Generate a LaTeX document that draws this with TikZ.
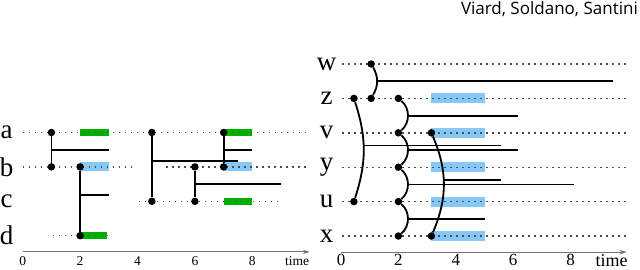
\documentclass[tikz,border=0pt]{standalone}
\usepackage{fontspec}
\setmainfont{Liberation Serif}
\newfontfamily\titlefont{Open Sans}
\usetikzlibrary{arrows.meta}

\definecolor{barblue}{RGB}{135,200,250}
\definecolor{bargreen}{RGB}{0,176,0}
\definecolor{axisgray}{RGB}{115,115,115}

\tikzset{
  dot/.style={circle,fill=black,inner sep=0pt,minimum size=7.5pt},
  link/.style={line width=1.8pt},
  track/.style={dash pattern=on 1.4pt off 4.6pt,line width=1.4pt,black!70},
  timeaxis/.style={axisgray,line width=1.1pt,-{Stealth[length=7pt,width=4.5pt]}},
  rowlabel/.style={font=\fontsize{27}{27}\selectfont},
}

\begin{document}
\begin{tikzpicture}[x=28.7pt,y=34.4pt]
\useasboundingbox (0pt,0pt) rectangle (640pt,269pt);

\node[anchor=base east,inner sep=0pt,font=\titlefont\fontsize{17}{17}\selectfont] (title) at (638pt,254.8pt) {Viard, Soldano, Santini};

% left panel
\begin{scope}[shift={(22.7pt,33.3pt)}]
  \fill [bargreen] (2,3-0.1) rectangle (3,3+0.1);
  \fill [bargreen] (7,3-0.1) rectangle (8,3+0.1);
  \fill [bargreen] (7,1-0.1) rectangle (8,1+0.1);
  \fill [bargreen] (2,0-0.1) rectangle (2.95,0+0.1);
  \fill [barblue] (2,2-0.13) rectangle (3,2+0.13);
  \fill [barblue] (7,2-0.13) rectangle (8,2+0.13);

  \draw[track] (0,3) -- (10,3);
  \draw[track] (0,2) -- (3.9,2)  (5,2) -- (10,2);
  \draw[track] (4.05,1) -- (8.9,1);
  \draw[track] (1.05,0) -- (2.95,0);

  \node[rowlabel] (la) at (-0.56,3) {a};
  \node[rowlabel] (lb) at (-0.56,2) {b};
  \node[rowlabel] (lc) at (-0.56,1) {c};
  \node[rowlabel] (ld) at (-0.56,0) {d};

  \draw[timeaxis] (0,-0.47) -- (10,-0.47);
  \foreach \t in {0,2,4,6,8}
    \node[font=\fontsize{13.5}{13.5}\selectfont] (lt\t) at (\t,-0.74) {\t};
  \node[anchor=base,font=\fontsize{13.5}{13.5}\selectfont] (ltime) at (9.56,-0.88) {time};

  \node[dot] (a1) at (1,3) {};
  \node[dot] (b1) at (1,2) {};
  \node[dot] (b2) at (2,2) {};
  \node[dot] (d2) at (2,0) {};
  \node[dot] (a4) at (4.5,3) {};
  \node[dot] (c4) at (4.5,1) {};
  \node[dot] (b6) at (6,2) {};
  \node[dot] (c6) at (6,1) {};
  \node[dot] (a7) at (7,3) {};
  \node[dot] (b7) at (7,2) {};

  \draw[link] (a1) -- coordinate[pos=.5] (ab1) (b1);
  \draw[link] (b2) -- coordinate[pos=.4] (bd2) (d2);
  \draw[link] (a4) -- coordinate[pos=.4] (ac4) (c4);
  \draw[link] (b6) -- coordinate[pos=.5] (bc6) (c6);
  \draw[link] (a7) -- coordinate[pos=.5] (ab7) (b7);

  \draw[link] (ab1) -- (ab1 -| 3,0);
  \draw[link] (bd2) -- (bd2 -| 3,0);
  \draw[link] (ac4) -- (ac4 -| 7.5,0);
  \draw[link] (bc6) -- (bc6 -| 9,0);
  \draw[link] (ab7) -- (ab7 -| 8,0);
\end{scope}

% right panel
\begin{scope}[shift={(341pt,33pt)}]
  \foreach \r in {0,1,2,3,4}
    \fill [barblue] (3.15,\r-0.145) rectangle (5,\r+0.145);
  \foreach \r in {0,1,2,3,4,5}
    \draw[track] (0.05,\r) -- (9.95,\r);

  \node[rowlabel] (lw) at (-0.5,5) {w};
  \node[rowlabel] (lz) at (-0.5,4) {z};
  \node[rowlabel] (lv) at (-0.5,3) {v};
  \node[rowlabel] (ly) at (-0.5,2) {y};
  \node[rowlabel] (lu) at (-0.5,1) {u};
  \node[rowlabel] (lx) at (-0.5,0) {x};

  \draw[timeaxis] (0,-0.47) -- (9.95,-0.47);
  \foreach \t in {0,2,4,6,8}
    \node[font=\fontsize{17}{17}\selectfont] (rt\t) at (\t,-0.70) {\t};
  \node[anchor=base,font=\fontsize{18}{18}\selectfont] (rtime) at (9.43,-0.88) {time};

  \node[dot] (w1) at (1.05,5) {};
  \node[dot] (z1) at (1.05,4) {};
  \node[dot] (z0) at (0.45,4) {};
  \node[dot] (u0) at (0.45,1) {};
  \foreach \n/\r in {z/4,v/3,y/2,u/1,x/0}
    \node[dot] (\n2) at (2,\r) {};
  \node[dot] (v3) at (3.15,3) {};
  \node[dot] (x3) at (3.15,0) {};

  \draw[link] (w1) to[bend left=30] coordinate[pos=.5] (wz1) (z1);
  \draw[link] (z0) to[bend left=18] coordinate[pos=.45] (zu0) (u0);
  \draw[link] (z2) to[bend left=50] coordinate[pos=.5] (zv2) (v2);
  \draw[link] (v2) to[bend left=50] coordinate[pos=.5] (vy2) (y2);
  \draw[link] (y2) to[bend left=50] coordinate[pos=.5] (yu2) (u2);
  \draw[link] (u2) to[bend left=50] coordinate[pos=.5] (ux2) (x2);
  \draw[link] (v3) to[bend left=23] coordinate[pos=.45] (vx3) (x3);

  \draw[link] (wz1) -- (wz1 -| 9.47,0);
  \draw[link] (zu0) -- (zu0 -| 5.56,0);
  \draw[link] (zv2) -- (zv2 -| 6.18,0);
  \draw[link] (vy2) -- (vy2 -| 6.18,0);
  \draw[link] (yu2) -- (yu2 -| 8.12,0);
  \draw[link] (ux2) -- (ux2 -| 5,0);
  \draw[link] (vx3) -- (vx3 -| 5.56,0);
\end{scope}

\end{tikzpicture}
\end{document}
